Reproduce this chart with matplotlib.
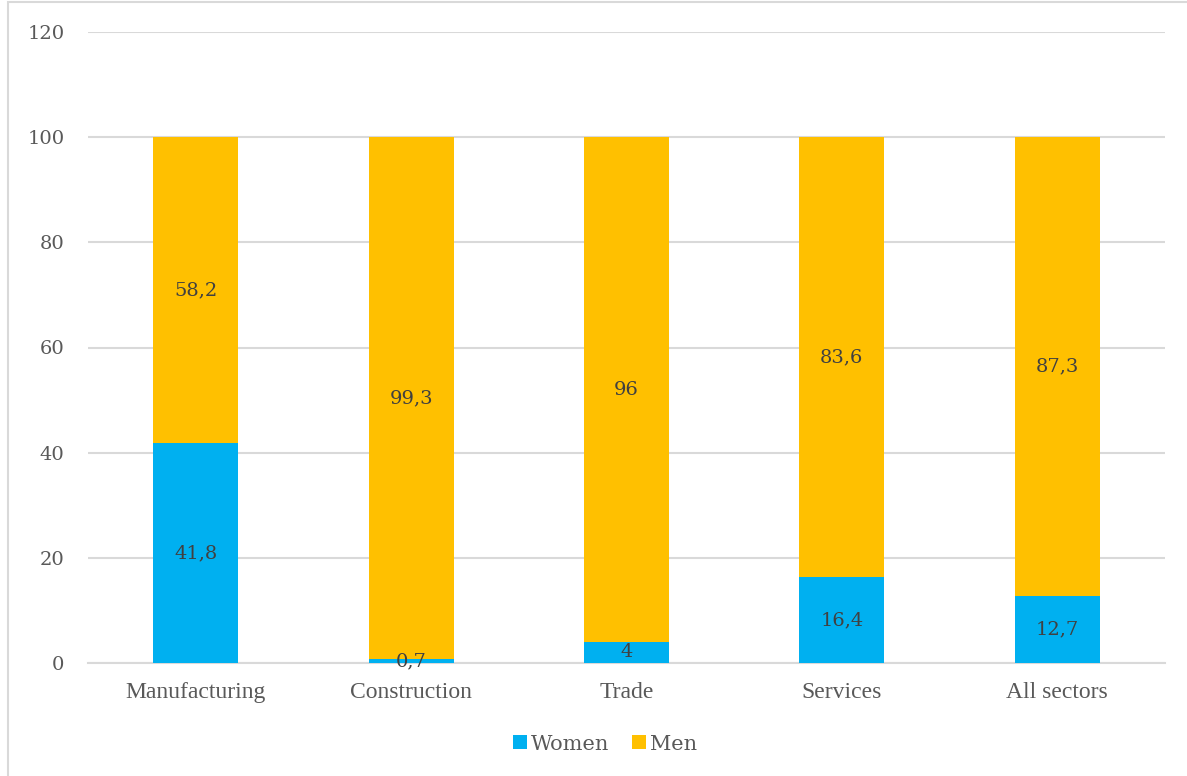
import matplotlib.pyplot as plt
import numpy as np
from matplotlib.patches import Rectangle

sectors = ["Manufacturing", "Construction", "Trade", "Services", "All sectors"]
women = [41.8, 0.7, 4, 16.4, 12.7]
men = [58.2, 99.3, 96, 83.6, 87.3]
yticks = [0, 20, 40, 60, 80, 100, 120]

blue = "#00B0F0"
gold = "#FFC000"
grey_text = "#595959"
grid_col = "#D9D9D9"
num_font = ["DejaVu Serif"]

plt.rcParams["font.family"] = ["Liberation Serif", "DejaVu Serif"]

fig = plt.figure(figsize=(11.87, 7.76), dpi=100)
ax = fig.add_axes([88 / 1187, 1 - 663 / 776, (1165 - 88) / 1187, (663 - 32) / 776])

x = np.arange(len(sectors))
w = 0.395
ax.bar(x, women, w, color=blue, label="Women", zorder=3)
ax.bar(x, men, w, bottom=women, color=gold, label="Men", zorder=3)

def fmt(v):
    return ("%g" % v).replace(".", ",")

for i in range(len(sectors)):
    ax.text(x[i], women[i] / 2, fmt(women[i]), ha="center", va="center",
            fontsize=14, color="#404040", family=num_font, zorder=4)
    ax.text(x[i], women[i] + men[i] / 2, fmt(men[i]), ha="center", va="center",
            fontsize=14, color="#404040", family=num_font, zorder=4)

ax.set_xlim(-0.5, len(sectors) - 0.5)
ax.set_ylim(0, 120)
ax.set_yticks(yticks)
ax.set_yticklabels([str(t) for t in yticks], fontsize=14, color=grey_text,
                   family=num_font)
ax.set_xticks(x)
ax.set_xticklabels(sectors, fontsize=17, color=grey_text)
ax.tick_params(axis="both", length=0)
ax.tick_params(axis="y", pad=17)
ax.tick_params(axis="x", pad=14)
ax.grid(axis="y", color=grid_col, linewidth=1.5, zorder=0)
for s in ["top", "right", "left"]:
    ax.spines[s].set_visible(False)
ax.spines["bottom"].set_color(grid_col)
ax.spines["bottom"].set_linewidth(1.5)

leg = fig.legend(loc="center", bbox_to_anchor=(0.51, 1 - 744 / 776), ncol=2,
                 frameon=False, prop={"family": num_font, "size": 15},
                 handlelength=0.65, handleheight=0.65,
                 handletextpad=0.2, columnspacing=1.1)
for t in leg.get_texts():
    t.set_color(grey_text)

# outer chart frame
fig.patches.append(Rectangle((8 / 1187, -0.1), 1.2, 1 - 2 / 776 + 0.1,
                             transform=fig.transFigure, fill=False,
                             edgecolor=grid_col, linewidth=1.5))

fig.savefig("out.png", dpi=100)
